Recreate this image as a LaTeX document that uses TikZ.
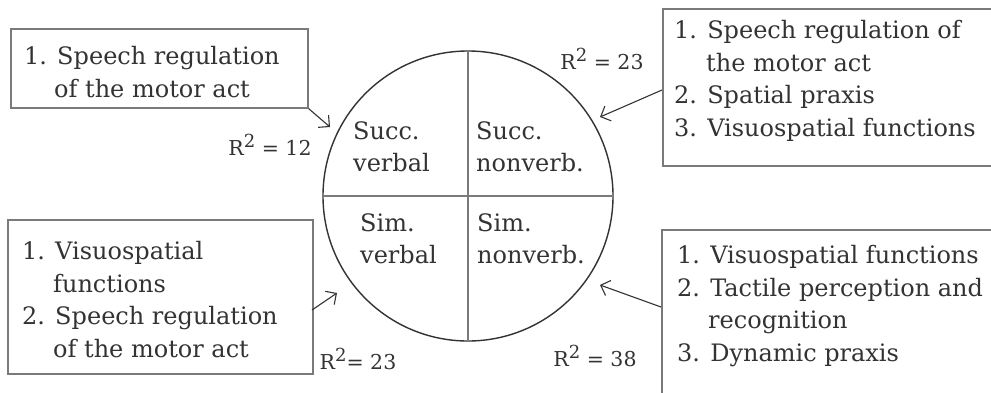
\documentclass[tikz,border=0pt]{standalone}
\usepackage{fontspec}
\setmainfont{DejaVu Serif}
\usetikzlibrary{arrows.meta}
\definecolor{ink}{HTML}{333333}
\definecolor{frame}{HTML}{7A7A7A}
\begin{document}
\begin{tikzpicture}[x=1pt,y=-1pt,
  boxframe/.style={draw=frame, line width=1.6pt, rectangle, inner sep=0pt, anchor=north west},
  listtext/.style={anchor=north west, inner sep=0pt, align=left, text=ink,
     font=\fontsize{24}{32.7}\selectfont},
  quad/.style={anchor=north west, inner sep=0pt, align=left, text=ink,
     font=\fontsize{24}{32}\selectfont},
  rlabel/.style={anchor=center, inner sep=0pt, text=ink, font=\fontsize{20.5}{24}\selectfont},
  divider/.style={draw=frame, line width=2pt},
  pointer/.style={draw=ink, line width=1.1pt, -{Straight Barb[length=8pt,width=16pt,line width=1.1pt]}}
]
\newcommand{\sqtwo}{\raisebox{0.75ex}{\fontsize{18}{18}\selectfont 2}}
\useasboundingbox (0,0) rectangle (991,392);
\clip (0,0) rectangle (991,392);
\fill[white] (0,0) rectangle (991,392);

% circle and quadrants
\node[circle, draw=ink, line width=1.4pt, minimum size=290pt, inner sep=0pt] (c) at (468,196) {};
\draw[divider] (c.north) -- (c.south);
\draw[divider] (c.west) -- (c.east);

\node[quad] (sv) at (353,121) {Succ.\\verbal};
\node[quad] (sn) at (476,121) {Succ.\\nonverb.};
\node[quad] (mv) at (360,213) {Sim.\\verbal};
\node[quad] (mn) at (477,213) {Sim.\\nonverb.};

% boxes
\node[boxframe, minimum width=297pt, minimum height=79pt] (tl) at (10,28) {};
\node[boxframe, minimum width=345pt, minimum height=157pt] (tr) at (662,8) {};
\node[boxframe, minimum width=305pt, minimum height=154pt] (bl) at (7,219) {};
\node[boxframe, minimum width=345pt, minimum height=165pt] (br) at (661,229) {};

\node[listtext] (tlt) at (24,46) {1. Speech regulation\\\hspace*{30pt}of the motor act};
\node[listtext] (trt) at (674,20) {1. Speech regulation of\\\hspace*{32pt}the motor act\\2. Spatial praxis\\3. Visuospatial functions};
\node[listtext] (blt) at (22,241) {1. Visuospatial\\\hspace*{31pt}functions\\2. Speech regulation\\\hspace*{31pt}of the motor act};
\node[listtext] (brt) at (677,245) {1. Visuospatial functions\\2. Tactile perception and\\\hspace*{31pt}recognition\\3. Dynamic praxis};

% R^2 labels
\node[rlabel] (r1) at (270,145) {R\sqtwo{} = 12};
\node[rlabel] (r2) at (602,59) {R\sqtwo{} = 23};
\node[rlabel] (r3) at (358,359) {R\sqtwo{}= 23};
\node[rlabel] (r4) at (595,356) {R\sqtwo{} = 38};

% arrows
\coordinate (a1) at (330,127);
\coordinate (a2) at (600,117);
\coordinate (a3) at (337,293);
\coordinate (a4) at (600,285);
\coordinate (s2) at (662,90);
\coordinate (s3) at (312,310);
\coordinate (s4) at (661,307);
\draw[pointer] (tl.south east) -- (a1);
\draw[pointer] (s2) -- (a2);
\draw[pointer] (s3) -- (a3);
\draw[pointer] (s4) -- (a4);
\end{tikzpicture}
\end{document}
